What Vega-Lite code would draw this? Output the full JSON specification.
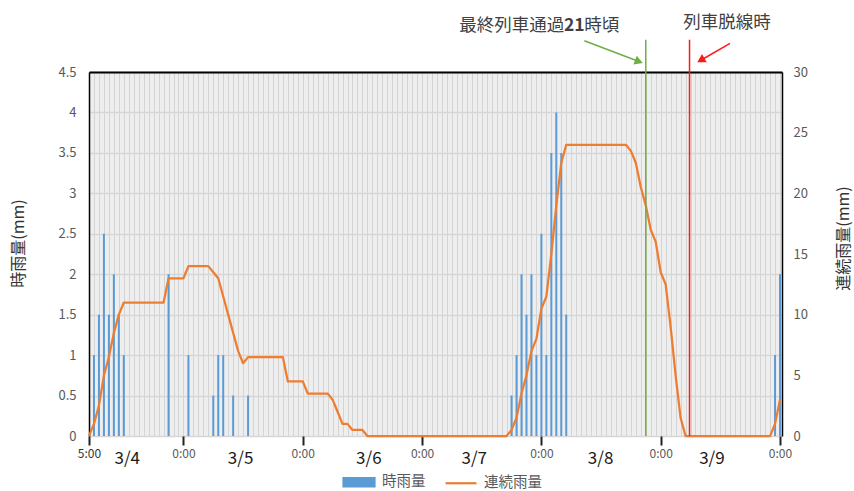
{
  "$schema": "https://vega.github.io/schema/vega-lite/v6.json",
  "width": 693,
  "height": 364,
  "autosize": {"type": "none"},
  "padding": {"left": 89, "top": 72, "right": 72, "bottom": 55},
  "background": "white",
  "config": {
    "font": "Noto Sans CJK JP",
    "view": {"fill": "#eeeeee", "stroke": null}
  },
  "datasets": {
    "hourly": [
      {"h": 0, "rain": 0, "cum": 0}, {"h": 1, "rain": 1, "cum": 1}, {"h": 2, "rain": 1.5, "cum": 2.5}, {"h": 3, "rain": 2.5, "cum": 5},
      {"h": 4, "rain": 1.5, "cum": 6.5}, {"h": 5, "rain": 2, "cum": 8.5}, {"h": 6, "rain": 1.5, "cum": 10}, {"h": 7, "rain": 1, "cum": 11},
      {"h": 8, "rain": 0, "cum": 11}, {"h": 9, "rain": 0, "cum": 11}, {"h": 10, "rain": 0, "cum": 11}, {"h": 11, "rain": 0, "cum": 11},
      {"h": 12, "rain": 0, "cum": 11}, {"h": 13, "rain": 0, "cum": 11}, {"h": 14, "rain": 0, "cum": 11}, {"h": 15, "rain": 0, "cum": 11},
      {"h": 16, "rain": 2, "cum": 13}, {"h": 17, "rain": 0, "cum": 13}, {"h": 18, "rain": 0, "cum": 13}, {"h": 19, "rain": 0, "cum": 13},
      {"h": 20, "rain": 1, "cum": 14}, {"h": 21, "rain": 0, "cum": 14}, {"h": 22, "rain": 0, "cum": 14}, {"h": 23, "rain": 0, "cum": 14},
      {"h": 24, "rain": 0, "cum": 14}, {"h": 25, "rain": 0.5, "cum": 13.5}, {"h": 26, "rain": 1, "cum": 13}, {"h": 27, "rain": 1, "cum": 11.5},
      {"h": 28, "rain": 0, "cum": 10}, {"h": 29, "rain": 0.5, "cum": 8.5}, {"h": 30, "rain": 0, "cum": 7}, {"h": 31, "rain": 0, "cum": 6},
      {"h": 32, "rain": 0.5, "cum": 6.5}, {"h": 33, "rain": 0, "cum": 6.5}, {"h": 34, "rain": 0, "cum": 6.5}, {"h": 35, "rain": 0, "cum": 6.5},
      {"h": 36, "rain": 0, "cum": 6.5}, {"h": 37, "rain": 0, "cum": 6.5}, {"h": 38, "rain": 0, "cum": 6.5}, {"h": 39, "rain": 0, "cum": 6.5},
      {"h": 40, "rain": 0, "cum": 4.5}, {"h": 41, "rain": 0, "cum": 4.5}, {"h": 42, "rain": 0, "cum": 4.5}, {"h": 43, "rain": 0, "cum": 4.5},
      {"h": 44, "rain": 0, "cum": 3.5}, {"h": 45, "rain": 0, "cum": 3.5}, {"h": 46, "rain": 0, "cum": 3.5}, {"h": 47, "rain": 0, "cum": 3.5},
      {"h": 48, "rain": 0, "cum": 3.5}, {"h": 49, "rain": 0, "cum": 3}, {"h": 50, "rain": 0, "cum": 2}, {"h": 51, "rain": 0, "cum": 1},
      {"h": 52, "rain": 0, "cum": 1}, {"h": 53, "rain": 0, "cum": 0.5}, {"h": 54, "rain": 0, "cum": 0.5}, {"h": 55, "rain": 0, "cum": 0.5},
      {"h": 56, "rain": 0, "cum": 0}, {"h": 57, "rain": 0, "cum": 0}, {"h": 58, "rain": 0, "cum": 0}, {"h": 59, "rain": 0, "cum": 0},
      {"h": 60, "rain": 0, "cum": 0}, {"h": 61, "rain": 0, "cum": 0}, {"h": 62, "rain": 0, "cum": 0}, {"h": 63, "rain": 0, "cum": 0},
      {"h": 64, "rain": 0, "cum": 0}, {"h": 65, "rain": 0, "cum": 0}, {"h": 66, "rain": 0, "cum": 0}, {"h": 67, "rain": 0, "cum": 0},
      {"h": 68, "rain": 0, "cum": 0}, {"h": 69, "rain": 0, "cum": 0}, {"h": 70, "rain": 0, "cum": 0}, {"h": 71, "rain": 0, "cum": 0},
      {"h": 72, "rain": 0, "cum": 0}, {"h": 73, "rain": 0, "cum": 0}, {"h": 74, "rain": 0, "cum": 0}, {"h": 75, "rain": 0, "cum": 0},
      {"h": 76, "rain": 0, "cum": 0}, {"h": 77, "rain": 0, "cum": 0}, {"h": 78, "rain": 0, "cum": 0}, {"h": 79, "rain": 0, "cum": 0},
      {"h": 80, "rain": 0, "cum": 0}, {"h": 81, "rain": 0, "cum": 0}, {"h": 82, "rain": 0, "cum": 0}, {"h": 83, "rain": 0, "cum": 0},
      {"h": 84, "rain": 0, "cum": 0}, {"h": 85, "rain": 0.5, "cum": 0.5}, {"h": 86, "rain": 1, "cum": 1.5}, {"h": 87, "rain": 2, "cum": 3.5},
      {"h": 88, "rain": 1.5, "cum": 5}, {"h": 89, "rain": 2, "cum": 7}, {"h": 90, "rain": 1, "cum": 8}, {"h": 91, "rain": 2.5, "cum": 10.5},
      {"h": 92, "rain": 1, "cum": 11.5}, {"h": 93, "rain": 3.5, "cum": 15}, {"h": 94, "rain": 4, "cum": 19}, {"h": 95, "rain": 3.5, "cum": 22.5},
      {"h": 96, "rain": 1.5, "cum": 24}, {"h": 97, "rain": 0, "cum": 24}, {"h": 98, "rain": 0, "cum": 24}, {"h": 99, "rain": 0, "cum": 24},
      {"h": 100, "rain": 0, "cum": 24}, {"h": 101, "rain": 0, "cum": 24}, {"h": 102, "rain": 0, "cum": 24}, {"h": 103, "rain": 0, "cum": 24},
      {"h": 104, "rain": 0, "cum": 24}, {"h": 105, "rain": 0, "cum": 24}, {"h": 106, "rain": 0, "cum": 24}, {"h": 107, "rain": 0, "cum": 24},
      {"h": 108, "rain": 0, "cum": 24}, {"h": 109, "rain": 0, "cum": 23.5}, {"h": 110, "rain": 0, "cum": 22.5}, {"h": 111, "rain": 0, "cum": 20.5},
      {"h": 112, "rain": 0, "cum": 19}, {"h": 113, "rain": 0, "cum": 17}, {"h": 114, "rain": 0, "cum": 16}, {"h": 115, "rain": 0, "cum": 13.5},
      {"h": 116, "rain": 0, "cum": 12.5}, {"h": 117, "rain": 0, "cum": 9}, {"h": 118, "rain": 0, "cum": 5}, {"h": 119, "rain": 0, "cum": 1.5},
      {"h": 120, "rain": 0, "cum": 0}, {"h": 121, "rain": 0, "cum": 0}, {"h": 122, "rain": 0, "cum": 0}, {"h": 123, "rain": 0, "cum": 0},
      {"h": 124, "rain": 0, "cum": 0}, {"h": 125, "rain": 0, "cum": 0}, {"h": 126, "rain": 0, "cum": 0}, {"h": 127, "rain": 0, "cum": 0},
      {"h": 128, "rain": 0, "cum": 0}, {"h": 129, "rain": 0, "cum": 0}, {"h": 130, "rain": 0, "cum": 0}, {"h": 131, "rain": 0, "cum": 0},
      {"h": 132, "rain": 0, "cum": 0}, {"h": 133, "rain": 0, "cum": 0}, {"h": 134, "rain": 0, "cum": 0}, {"h": 135, "rain": 0, "cum": 0},
      {"h": 136, "rain": 0, "cum": 0}, {"h": 137, "rain": 0, "cum": 0}, {"h": 138, "rain": 1, "cum": 1}, {"h": 139, "rain": 2, "cum": 3}
    ]
  },
  "layer": [
    {
      "data": {"name": "hourly"},
      "transform": [{"filter": "datum.rain > 0"}],
      "mark": {"type": "bar", "width": 2},
      "encoding": {
        "x": {
          "field": "h", "type": "quantitative",
          "scale": {"domain": [0, 139.4], "nice": false, "zero": false, "padding": 0},
          "axis": {
            "orient": "bottom", "title": null, "tickCount": 139,
            "grid": true, "gridColor": "#d4d4d4", "gridWidth": 1,
            "domain": false, "ticks": true, "tickSize": 9, "tickWidth": 2, "tickColor": "#222222",
            "tickOpacity": {"condition": {"test": "datum.value == 0 || (datum.value - 19) % 24 == 0", "value": 1}, "value": 0},
            "labelExpr": "datum.value == 0 ? '5:00' : ((datum.value - 19) % 24 == 0 ? '0:00' : '')",
            "labelColor": {"condition": {"test": "datum.value == 0", "value": "#333333"}, "value": "#595959"},
            "labelOverlap": false, "labelBound": false, "labelFlush": false,
            "labelFontSize": 12, "labelPadding": 3
          }
        },
        "y": {
          "field": "rain", "type": "quantitative",
          "scale": {"domain": [0, 4.5], "nice": false},
          "axis": {
            "orient": "left", "title": "時雨量(mm)",
            "values": [0, 0.5, 1, 1.5, 2, 2.5, 3, 3.5, 4, 4.5],
            "labelExpr": "'' + datum.value",
            "grid": true, "gridColor": "#d6d6d6", "gridWidth": 1.5,
            "ticks": false, "domain": true, "domainColor": "#000000", "domainWidth": 1.5,
            "labelPadding": 13, "labelFontSize": 13, "labelColor": "#595959",
            "titleFontSize": 16, "titleColor": "#333333", "titleFontWeight": "normal",
            "titleAngle": -90, "titleX": -71, "titleY": 171, "titleAlign": "center", "titleBaseline": "middle"
          }
        },
        "color": {
          "datum": "時雨量",
          "scale": {"domain": ["時雨量", "連続雨量"], "range": ["#5b9bd5", "#ed7d31"]},
          "legend": {
            "orient": "none", "legendX": 253, "legendY": 393, "direction": "horizontal", "title": null,
            "symbolType": "M-1,-0.27H1V0.27H-1Z", "symbolSize": 961,
            "labelFontSize": 14.5, "labelColor": "#595959", "labelOffset": 6, "columnPadding": 15,
            "encode": {
              "symbols": {
                "update": {
                  "shape": {"signal": "datum.value === '時雨量' ? 'M-1,-0.27H1V0.27H-1Z' : 'M-1,0H1'"},
                  "fill": {"signal": "datum.value === '時雨量' ? '#5b9bd5' : 'transparent'"},
                  "stroke": {"signal": "datum.value === '時雨量' ? 'transparent' : '#ed7d31'"},
                  "strokeWidth": {"value": 2.2},
                  "opacity": {"value": 1},
                  "fillOpacity": {"value": 1},
                  "strokeOpacity": {"value": 1}
                }
              }
            }
          }
        }
      }
    },
    {
      "data": {"name": "hourly"},
      "mark": {"type": "line", "strokeWidth": 2.25, "strokeJoin": "round"},
      "encoding": {
        "x": {
          "field": "h", "type": "quantitative",
          "scale": {"domain": [0, 139.4], "nice": false, "zero": false, "padding": 0},
          "axis": {
            "orient": "bottom", "title": null,
            "values": [7.6, 30.4, 56.2, 77.4, 102.8, 125.2],
            "labelExpr": "datum.value < 19 ? '3/4' : datum.value < 43 ? '3/5' : datum.value < 67 ? '3/6' : datum.value < 91 ? '3/7' : datum.value < 115 ? '3/8' : '3/9'",
            "ticks": false, "domain": false, "grid": false,
            "labelFontSize": 17, "labelColor": "#1a1a1a", "labelPadding": 14,
            "labelOverlap": false, "labelBound": false, "labelFlush": false
          }
        },
        "y": {
          "field": "cum", "type": "quantitative",
          "scale": {"domain": [0, 30], "nice": false},
          "axis": {
            "orient": "right", "title": "連続雨量(mm)",
            "values": [0, 5, 10, 15, 20, 25, 30],
            "grid": false, "ticks": false, "domain": true, "domainColor": "#000000", "domainWidth": 1.5,
            "labelPadding": 11, "labelFontSize": 13, "labelColor": "#595959",
            "titleFontSize": 16, "titleColor": "#333333", "titleFontWeight": "normal",
            "titleAngle": -90, "titleX": 61, "titleY": 166, "titleAlign": "center", "titleBaseline": "middle"
          }
        },
        "color": {"datum": "連続雨量"}
      }
    },
    {
      "data": {"values": [{"h": 112, "y0": 0, "y1": 4.9}]},
      "mark": {"type": "rule", "color": "#70ad47", "strokeWidth": 1.5},
      "encoding": {
        "x": {
          "field": "h", "type": "quantitative",
          "scale": {"domain": [0, 139.4], "nice": false, "zero": false, "padding": 0},
          "axis": {"orient": "top", "title": null, "labels": false, "ticks": false, "grid": false, "domain": true, "domainColor": "#000000", "domainWidth": 2}
        },
        "y": {"field": "y0", "type": "quantitative", "scale": {"domain": [0, 4.5], "nice": false}, "axis": null},
        "y2": {"field": "y1"}
      }
    },
    {
      "data": {"values": [{"h": 120.8, "y0": 0, "y1": 4.9}]},
      "mark": {"type": "rule", "color": "#ff1a1a", "strokeWidth": 1.5},
      "encoding": {
        "x": {"field": "h", "type": "quantitative", "scale": {"domain": [0, 139.4], "nice": false, "zero": false, "padding": 0}, "axis": null},
        "y": {"field": "y0", "type": "quantitative", "scale": {"domain": [0, 4.5], "nice": false}, "axis": null},
        "y2": {"field": "y1"}
      }
    },
    {
      "data": {"values": [{"h": 99.64, "y": 4.887, "h2": 110.62, "y2": 4.629}]},
      "mark": {"type": "rule", "color": "#70ad47", "strokeWidth": 1.5},
      "encoding": {
        "x": {"field": "h", "type": "quantitative", "scale": {"domain": [0, 139.4], "nice": false, "zero": false, "padding": 0}, "axis": null},
        "x2": {"field": "h2"},
        "y": {"field": "y", "type": "quantitative", "scale": {"domain": [0, 4.5], "nice": false}, "axis": null},
        "y2": {"field": "y2"}
      }
    },
    {
      "data": {"values": [{"h": 110.62, "y": 4.629}]},
      "mark": {"type": "point", "shape": "triangle-right", "filled": true, "color": "#70ad47", "size": 90, "angle": 21, "opacity": 1},
      "encoding": {
        "x": {"field": "h", "type": "quantitative", "scale": {"domain": [0, 139.4], "nice": false, "zero": false, "padding": 0}, "axis": null},
        "y": {"field": "y", "type": "quantitative", "scale": {"domain": [0, 4.5], "nice": false}, "axis": null}
      }
    },
    {
      "data": {"values": [{"h": 128.95, "y": 4.855, "h2": 123.07, "y2": 4.645}]},
      "mark": {"type": "rule", "color": "#ff1a1a", "strokeWidth": 1.5},
      "encoding": {
        "x": {"field": "h", "type": "quantitative", "scale": {"domain": [0, 139.4], "nice": false, "zero": false, "padding": 0}, "axis": null},
        "x2": {"field": "h2"},
        "y": {"field": "y", "type": "quantitative", "scale": {"domain": [0, 4.5], "nice": false}, "axis": null},
        "y2": {"field": "y2"}
      }
    },
    {
      "data": {"values": [{"h": 123.07, "y": 4.645}]},
      "mark": {"type": "point", "shape": "triangle-right", "filled": true, "color": "#ff1a1a", "size": 90, "angle": 150, "opacity": 1},
      "encoding": {
        "x": {"field": "h", "type": "quantitative", "scale": {"domain": [0, 139.4], "nice": false, "zero": false, "padding": 0}, "axis": null},
        "y": {"field": "y", "type": "quantitative", "scale": {"domain": [0, 4.5], "nice": false}, "axis": null}
      }
    },
    {
      "data": {"values": [{"label": "最終列車通過", "h": 97.63, "y": 5.069}]},
      "mark": {"type": "text", "align": "right", "baseline": "middle", "dx": -10, "fontSize": 17.5, "color": "#404040"},
      "encoding": {
        "x": {"field": "h", "type": "quantitative", "scale": {"domain": [0, 139.4], "nice": false, "zero": false, "padding": 0}, "axis": null},
        "y": {"field": "y", "type": "quantitative", "scale": {"domain": [0, 4.5], "nice": false}, "axis": null},
        "text": {"field": "label"}
      }
    },
    {
      "data": {"values": [{"label": "21", "h": 97.63, "y": 5.069}]},
      "mark": {"type": "text", "align": "center", "baseline": "middle", "fontSize": 17.5, "fontWeight": "bold", "color": "#404040"},
      "encoding": {
        "x": {"field": "h", "type": "quantitative", "scale": {"domain": [0, 139.4], "nice": false, "zero": false, "padding": 0}, "axis": null},
        "y": {"field": "y", "type": "quantitative", "scale": {"domain": [0, 4.5], "nice": false}, "axis": null},
        "text": {"field": "label"}
      }
    },
    {
      "data": {"values": [{"label": "時頃", "h": 97.63, "y": 5.069}]},
      "mark": {"type": "text", "align": "left", "baseline": "middle", "dx": 10, "fontSize": 17.5, "color": "#404040"},
      "encoding": {
        "x": {"field": "h", "type": "quantitative", "scale": {"domain": [0, 139.4], "nice": false, "zero": false, "padding": 0}, "axis": null},
        "y": {"field": "y", "type": "quantitative", "scale": {"domain": [0, 4.5], "nice": false}, "axis": null},
        "text": {"field": "label"}
      }
    },
    {
      "data": {"values": [{"label": "列車脱線時", "h": 128.34, "y": 5.106}]},
      "mark": {"type": "text", "align": "center", "baseline": "middle", "fontSize": 17.5, "color": "#404040"},
      "encoding": {
        "x": {"field": "h", "type": "quantitative", "scale": {"domain": [0, 139.4], "nice": false, "zero": false, "padding": 0}, "axis": null},
        "y": {"field": "y", "type": "quantitative", "scale": {"domain": [0, 4.5], "nice": false}, "axis": null},
        "text": {"field": "label"}
      }
    }
  ],
  "resolve": {"scale": {"y": "independent"}, "axis": {"x": "independent"}}
}
